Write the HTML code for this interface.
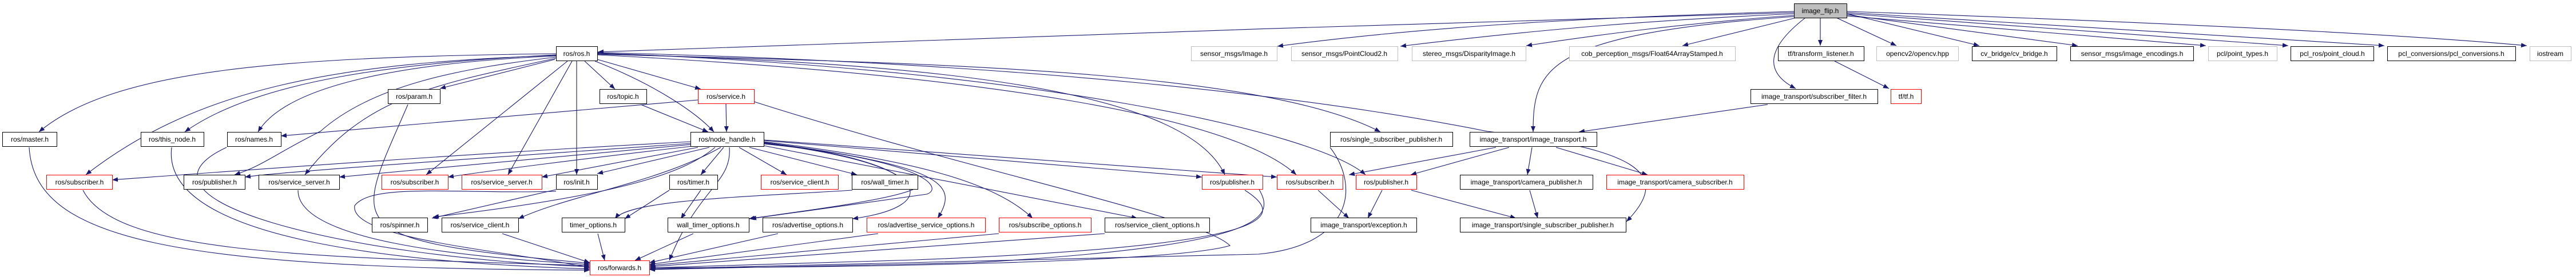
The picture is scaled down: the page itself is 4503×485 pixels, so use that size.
<!DOCTYPE html>
<html><head><meta charset="utf-8"><style>
html,body{margin:0;padding:0;background:#fff;width:4503px;height:485px;overflow:hidden}
svg{display:block}
text{font-family:"Liberation Sans",sans-serif;font-size:12px;fill:#000;text-anchor:middle}
.e{fill:none;stroke:#191970;stroke-width:1.1}
.b{fill:#fff;stroke:#000;stroke-width:1}
.r{fill:#fff;stroke:#ff0000;stroke-width:1}
.g{fill:#fff;stroke:#bfbfbf;stroke-width:1}
</style></head><body>
<svg width="4503" height="485" viewBox="0 0 4503 485" xmlns="http://www.w3.org/2000/svg">
<defs><marker id="a" markerUnits="userSpaceOnUse" markerWidth="11" markerHeight="8" refX="10" refY="4" orient="auto"><path d="M0,0 L10,4 L0,8 z" fill="#191970"/></marker></defs>
<g class="e" marker-end="url(#a)">
<!-- image_flip edges -->
<path d="M3136,22 C2500,40 1600,70 1045,91"/>
<path d="M3136,20 C2800,30 2500,45 2233,81"/>
<path d="M3136,24 C2900,35 2700,50 2448,81"/>
<path d="M3136,27 C2950,40 2800,60 2668,80"/>
<path d="M3140,31 L2941,80"/>
<path d="M3182,31 L3182,80"/>
<path d="M3210,31 L3315,80"/>
<path d="M3156,31 C3080,90 3090,130 3139,155"/>
<path d="M3136,29 C2700,60 2680,120 2680,231"/>
<path d="M3229,24 L3460,80"/>
<path d="M3229,26 L3632,80"/>
<path d="M3229,28 L3856,80"/>
<path d="M3229,24 L4000,80"/>
<path d="M3229,22 L4168,80"/>
<path d="M3229,20 C3800,40 4200,60 4417,80"/>
<!-- ros.h edges -->
<path d="M972,94 C500,100 200,120 68,231"/>
<path d="M972,96 C700,110 450,140 323,231"/>
<path d="M972,98 C700,110 500,150 451,231"/>
<path d="M972,97 C600,110 350,150 150,306"/>
<path d="M972,100 C800,120 650,150 560,230 C480,270 460,290 410,306"/>
<path d="M972,102 C750,150 640,170 533,306"/>
<path d="M970,104 L769,155"/>
<path d="M992,107 L745,306"/>
<path d="M1000,107 L888,306"/>
<path d="M1008,107 L1008,306"/>
<path d="M1022,107 L1075,156"/>
<path d="M1040,107 C1150,150 1220,200 1248,231"/>
<path d="M1044,104 L1225,156"/>
<path d="M1044,95 C1600,110 2200,120 2413,231"/>
<path d="M1044,94 C1600,110 2070,150 2141,306"/>
<path d="M1044,96 C1700,130 2150,200 2266,306"/>
<path d="M1044,93 C1800,120 2300,230 2387,306"/>
<path d="M1044,92 C1800,110 2300,170 2600,230 C2850,260 2930,300 2843,388"/>
<!-- service.h / topic.h -->
<path d="M1220,175 L491,238"/>
<path d="M1269,182 L1270,231"/>
<path d="M1318,178 C1700,300 2100,380 2150,430 C2050,460 1500,468 1136,469"/>
<path d="M1120,183 L1238,231"/>
<!-- node_handle edges -->
<path d="M1208,248 C800,270 400,300 196,315"/>
<path d="M1208,251 C800,280 500,300 428,310"/>
<path d="M1208,253 C900,280 700,300 593,310"/>
<path d="M1210,256 C1000,280 850,300 783,310"/>
<path d="M1220,258 C1100,280 1000,300 947,310"/>
<path d="M1240,258 L1044,304"/>
<path d="M1250,258 C1200,300 1100,340 757,380"/>
<path d="M1260,258 C1150,320 1000,340 906,383"/>
<path d="M1265,258 L1225,306"/>
<path d="M1292,258 L1375,306"/>
<path d="M1310,258 L1498,306"/>
<path d="M1335,250 C1560,280 1570,310 1600,330 C1560,350 1400,370 1309,383"/>
<path d="M1335,252 C1620,280 1650,330 1620,340 L1312,383"/>
<path d="M1335,251 C1620,280 1660,360 1490,383"/>
<path d="M1335,249 C1640,290 1680,320 1639,382"/>
<path d="M1335,248 C1600,280 1740,320 1805,382"/>
<path d="M1335,255 L1988,382"/>
<path d="M1335,246 L2101,310"/>
<path d="M1335,245 L2232,310"/>
<path d="M1275,258 C1280,320 1220,330 1170,456"/>
<!-- row4 internal -->
<path d="M1170,333 L1092,383"/>
<path d="M1490,333 C1300,345 1100,350 1075,383"/>
<path d="M1225,333 L1190,383"/>
<path d="M972,332 L755,382"/>
<path d="M972,335 C800,340 650,320 620,360 C610,420 900,440 1031,469"/>
<!-- to forwards -->
<path d="M51,258 C60,420 300,470 1031,473"/>
<path d="M300,258 C280,420 700,460 1031,471"/>
<path d="M396,258 C200,350 600,450 1031,467"/>
<path d="M145,333 C200,440 500,450 1031,465"/>
<path d="M521,333 C520,420 800,450 1031,463"/>
<path d="M713,183 C620,400 580,420 1031,461"/>
<path d="M878,409 L1031,460"/>
<path d="M1045,409 L1057,456"/>
<path d="M1212,409 L1110,456"/>
<path d="M1360,409 L1135,460"/>
<path d="M1535,409 L1135,463"/>
<path d="M1746,409 L1135,465"/>
<path d="M1931,409 L1135,467"/>
<path d="M2176,333 C2250,380 2240,430 1600,455 L1135,469"/>
<path d="M2325,258 C2380,330 2360,430 2200,445 L1135,471"/>
<path d="M2200,330 C2230,380 2220,430 1700,460 L1135,472"/>
<!-- image_transport -->
<path d="M2304,333 L2358,382"/>
<path d="M2416,333 L2391,382"/>
<path d="M2467,333 L2650,382"/>
<path d="M2615,258 L2358,306"/>
<path d="M2638,258 L2466,306"/>
<path d="M2678,258 L2670,306"/>
<path d="M2720,258 L2880,306"/>
<path d="M2674,333 L2688,382"/>
<path d="M3090,183 L2760,231"/>
<path d="M3207,107 L3302,155"/>
</g>
<!-- nodes -->
<g>
<rect class="b" x="3136.5" y="6.5" width="92" height="25" style="fill:#bfbfbf"/><text x="3182" y="23">image_flip.h</text>
<rect class="b" x="972.5" y="81.5" width="72" height="25"/><text x="1008" y="98">ros/ros.h</text>
<rect class="g" x="2082.5" y="81.5" width="150" height="25"/><text x="2157" y="98">sensor_msgs/Image.h</text>
<rect class="g" x="2257.5" y="81.5" width="186" height="25"/><text x="2350" y="98">sensor_msgs/PointCloud2.h</text>
<rect class="g" x="2468.5" y="81.5" width="199" height="25"/><text x="2568" y="98">stereo_msgs/DisparityImage.h</text>
<rect class="g" x="2743.5" y="81.5" width="290" height="25"/><text x="2888" y="98">cob_perception_msgs/Float64ArrayStamped.h</text>
<rect class="b" x="3108.5" y="81.5" width="150" height="25"/><text x="3183" y="98">tf/transform_listener.h</text>
<rect class="g" x="3280.5" y="81.5" width="143" height="25"/><text x="3352" y="98">opencv2/opencv.hpp</text>
<rect class="b" x="3447.5" y="81.5" width="148" height="25"/><text x="3521" y="98">cv_bridge/cv_bridge.h</text>
<rect class="b" x="3619.5" y="81.5" width="215" height="25"/><text x="3727" y="98">sensor_msgs/image_encodings.h</text>
<rect class="g" x="3860.5" y="81.5" width="120" height="25"/><text x="3920" y="98">pcl/point_types.h</text>
<rect class="b" x="4004.5" y="81.5" width="145" height="25"/><text x="4077" y="98">pcl_ros/point_cloud.h</text>
<rect class="b" x="4173.5" y="81.5" width="224" height="25"/><text x="4285" y="98">pcl_conversions/pcl_conversions.h</text>
<rect class="g" x="4422.5" y="81.5" width="72" height="25"/><text x="4458" y="98">iostream</text>

<rect class="b" x="678.5" y="156.5" width="91" height="25"/><text x="724" y="173">ros/param.h</text>
<rect class="b" x="1048.5" y="156.5" width="82" height="25"/><text x="1089" y="173">ros/topic.h</text>
<rect class="r" x="1220.5" y="156.5" width="98" height="25"/><text x="1269" y="173">ros/service.h</text>
<rect class="b" x="3060.5" y="156.5" width="222" height="25"/><text x="3171" y="173">image_transport/subscriber_filter.h</text>
<rect class="r" x="3305.5" y="156.5" width="53" height="25"/><text x="3332" y="173">tf/tf.h</text>

<rect class="b" x="4.5" y="231.5" width="95" height="25"/><text x="52" y="248">ros/master.h</text>
<rect class="b" x="246.5" y="231.5" width="110" height="25"/><text x="301" y="248">ros/this_node.h</text>
<rect class="b" x="397.5" y="231.5" width="94" height="25"/><text x="444" y="248">ros/names.h</text>
<rect class="b" x="1207.5" y="231.5" width="128" height="25"/><text x="1271" y="248">ros/node_handle.h</text>
<rect class="b" x="2325.5" y="231.5" width="214" height="25"/><text x="2432" y="248">ros/single_subscriber_publisher.h</text>
<rect class="b" x="2569.5" y="231.5" width="222" height="25"/><text x="2680" y="248">image_transport/image_transport.h</text>

<rect class="r" x="81.5" y="306.5" width="115" height="25"/><text x="139" y="323">ros/subscriber.h</text>
<rect class="b" x="321.5" y="306.5" width="107" height="25"/><text x="375" y="323">ros/publisher.h</text>
<rect class="b" x="452.5" y="306.5" width="141" height="25"/><text x="523" y="323">ros/service_server.h</text>
<rect class="r" x="667.5" y="306.5" width="116" height="25"/><text x="725" y="323">ros/subscriber.h</text>
<rect class="r" x="807.5" y="306.5" width="140" height="25"/><text x="877" y="323">ros/service_server.h</text>
<rect class="b" x="972.5" y="306.5" width="72" height="25"/><text x="1008" y="323">ros/init.h</text>
<rect class="b" x="1170.5" y="306.5" width="84" height="25"/><text x="1212" y="323">ros/timer.h</text>
<rect class="r" x="1330.5" y="306.5" width="135" height="25"/><text x="1398" y="323">ros/service_client.h</text>
<rect class="b" x="1489.5" y="306.5" width="115" height="25"/><text x="1547" y="323">ros/wall_timer.h</text>
<rect class="r" x="2101.5" y="306.5" width="106" height="25"/><text x="2154" y="323">ros/publisher.h</text>
<rect class="r" x="2232.5" y="306.5" width="115" height="25"/><text x="2290" y="323">ros/subscriber.h</text>
<rect class="r" x="2370.5" y="306.5" width="106" height="25"/><text x="2423" y="323">ros/publisher.h</text>
<rect class="b" x="2552.5" y="306.5" width="232" height="25"/><text x="2668" y="323">image_transport/camera_publisher.h</text>
<rect class="r" x="2808.5" y="306.5" width="240" height="25"/><text x="2928" y="323">image_transport/camera_subscriber.h</text>

<rect class="b" x="650.5" y="381.5" width="97" height="25"/><text x="699" y="398">ros/spinner.h</text>
<rect class="b" x="772.5" y="381.5" width="134" height="25"/><text x="839" y="398">ros/service_client.h</text>
<rect class="b" x="982.5" y="381.5" width="110" height="25"/><text x="1037" y="398">timer_options.h</text>
<rect class="b" x="1167.5" y="381.5" width="142" height="25"/><text x="1238" y="398">wall_timer_options.h</text>
<rect class="b" x="1333.5" y="381.5" width="157" height="25"/><text x="1412" y="398">ros/advertise_options.h</text>
<rect class="r" x="1515.5" y="381.5" width="207" height="25"/><text x="1619" y="398">ros/advertise_service_options.h</text>
<rect class="r" x="1746.5" y="381.5" width="161" height="25"/><text x="1827" y="398">ros/subscribe_options.h</text>
<rect class="b" x="1931.5" y="381.5" width="183" height="25"/><text x="2023" y="398">ros/service_client_options.h</text>
<rect class="b" x="2291.5" y="381.5" width="185" height="25"/><text x="2384" y="398">image_transport/exception.h</text>
<rect class="b" x="2552.5" y="381.5" width="290" height="25"/><text x="2697" y="398">image_transport/single_subscriber_publisher.h</text>

<rect class="r" x="1031.5" y="456.5" width="104" height="25"/><text x="1083" y="473">ros/forwards.h</text>
</g>
</svg>
</body></html>
